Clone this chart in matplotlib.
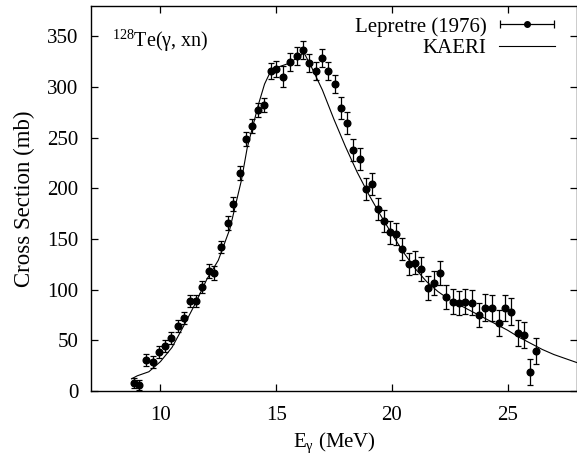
import matplotlib
matplotlib.use("Agg")
import matplotlib.pyplot as plt
from matplotlib.legend_handler import HandlerErrorbar
import numpy as np

plt.rcParams['font.family'] = ['Liberation Serif', 'DejaVu Serif']
plt.rcParams['mathtext.fontset'] = 'custom'
plt.rcParams['mathtext.rm'] = 'Liberation Serif'
plt.rcParams['mathtext.it'] = 'Liberation Serif:italic'

# Lepretre (1976) data: energy (MeV), cross section (mb), error (mb)
exp_energy = [8.86, 9.08, 9.37, 9.66, 9.93, 10.19, 10.46, 10.74, 11.0, 11.27,
              11.53, 11.8, 12.09, 12.32, 12.61, 12.9, 13.14, 13.43, 13.7, 13.95,
              14.22, 14.48, 14.77, 15.01, 15.3, 15.59, 15.88, 16.16, 16.42, 16.71,
              16.97, 17.24, 17.53, 17.79, 18.06, 18.34, 18.61, 18.87, 19.13, 19.4,
              19.66, 19.94, 20.2, 20.45, 20.74, 21.01, 21.28, 21.56, 21.81, 22.09,
              22.36, 22.64, 22.9, 23.17, 23.46, 23.76, 24.04, 24.32, 24.61, 24.88,
              25.15, 25.44, 25.69, 25.96, 26.24]
exp_sigma = [7.6, 5.6, 30.6, 28.9, 38.8, 44.7, 52.0, 64.5, 71.7, 88.8,
             88.8, 102.4, 118.8, 116.8, 141.9, 166.1, 184.3, 214.9, 249.0, 261.9,
             277.4, 282.3, 316.2, 317.6, 310.3, 325.1, 330.7, 336.6, 324.1, 316.2,
             329.0, 316.2, 303.0, 279.1, 264.3, 237.6, 228.7, 199.4, 204.0, 179.7,
             167.5, 156.5, 155.0, 140.5, 125.1, 126.7, 120.1, 101.7, 106.6, 116.2,
             93.1, 88.2, 86.6, 88.2, 87.2, 75.3, 82.4, 81.6, 67.0, 81.6,
             78.3, 57.0, 55.3, 18.5, 39.5]
exp_error = [5, 5, 6, 6, 6, 6, 6, 6, 6, 6,
             6, 6, 7, 7, 6, 7, 7, 7, 7, 7,
             7, 7, 8, 8, 10, 9, 9, 9, 9, 9,
             9, 9, 9, 11, 11, 11, 11, 11, 11, 11,
             11, 11, 11, 11, 11, 11, 12, 12, 12, 12,
             12, 12, 12, 12, 12, 12, 13, 13, 13, 13,
             13, 13, 13, 13, 13]

# KAERI evaluation curve
kaeri_energy = [8.75, 9.0, 9.5, 10.0, 10.5, 11.0, 11.5, 12.0, 12.5, 13.0,
                13.5, 13.75, 14.0, 14.25, 14.5, 14.75, 15.0, 15.5, 16.0, 16.2,
                16.5, 17.0, 17.5, 18.0, 18.5, 19.0, 19.5, 20.0, 20.5, 21.0,
                21.5, 22.0, 22.5, 23.0, 23.5, 24.0, 24.5, 25.0, 25.5, 26.0,
                26.5, 27.0, 27.5, 28.0]
kaeri_sigma = [12, 15, 19, 29, 43, 64, 86, 110, 129, 160,
               208, 240, 262, 284, 303, 315, 319, 323, 330, 334,
               321, 297, 268, 241, 216, 194, 174, 155, 137, 121,
               108, 98, 90, 84, 78, 72, 66, 60, 53, 47,
               41, 36, 32, 28]

xticks = [10, 15, 20, 25]
yticks = [0, 50, 100, 150, 200, 250, 300, 350]

fig = plt.figure(figsize=(5.77, 4.67), dpi=100)
ax = fig.add_axes([91/577, 1 - 391/467, 486/577, 385/467])

eb = ax.errorbar(exp_energy, exp_sigma, yerr=exp_error, fmt='o', color='black',
                 ms=4.8, capsize=2.5, elinewidth=0.9, capthick=0.9, zorder=3)
ax.plot(kaeri_energy, kaeri_sigma, color='black', lw=0.8, zorder=2)

# legend handles
leg_eb = ax.errorbar([np.nan], [np.nan], xerr=[1], fmt='o', color='black',
                     ms=4, capsize=3, elinewidth=0.9, capthick=0.9)
leg_line, = ax.plot([np.nan], [np.nan], color='black', lw=0.8)

ax.set_xlim(7, 28)
ax.set_ylim(0, 380)
ax.set_xticks(xticks)
ax.set_yticks(yticks)
ax.tick_params(direction='in', length=5, width=0.9, top=True, right=True,
               labelsize=15)
ax.tick_params(axis='y', pad=9)
ax.tick_params(axis='x', pad=11)
for s in ax.spines.values():
    s.set_linewidth(1.0)

ax.set_xlabel('E$_{\\mathrm{γ}}$ (MeV)', fontsize=15, labelpad=4)
ax.set_ylabel('Cross Section (mb)', fontsize=16.5, labelpad=9)

ax.text(7.9, 340, '$^{128}$Te(γ, xn)', fontsize=14.5, ha='left', va='baseline')

ax.legend([leg_eb, leg_line], ['Lepretre (1976)', 'KAERI'],
          handler_map={type(leg_eb): HandlerErrorbar(xerr_size=1.3)},
          loc='upper right', bbox_to_anchor=(0.955, 0.972), borderaxespad=0,
          borderpad=0, frameon=False, markerfirst=False, fontsize=15,
          handlelength=2.7, handletextpad=0.6, labelspacing=0.1)

fig.savefig('out.png', dpi=100)
